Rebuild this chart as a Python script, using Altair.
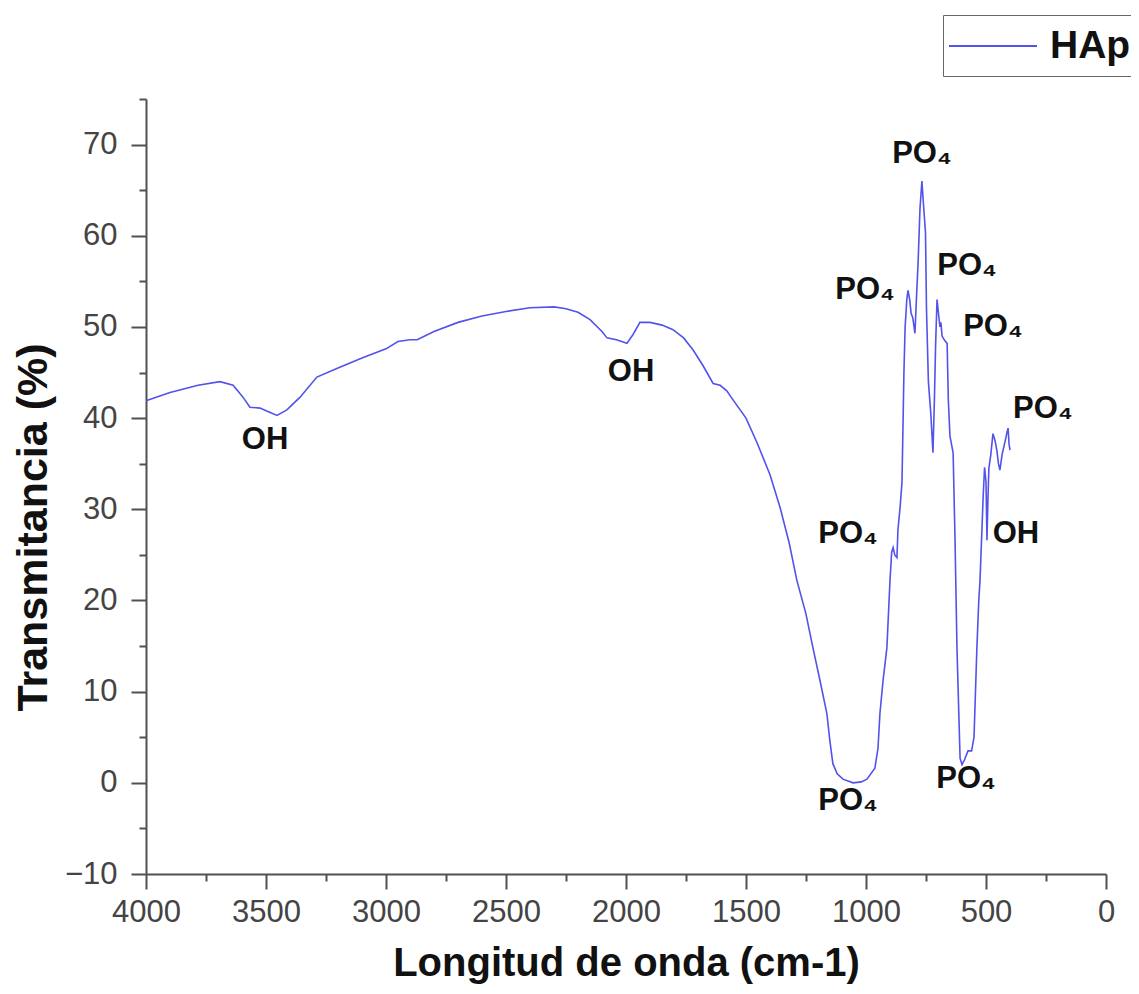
import altair as alt
import pandas as pd

# Spectrum (wavenumber in cm-1, transmittance in %)
wavenumber = [
    4000, 3900, 3783, 3692, 3637, 3596, 3567, 3525, 3490, 3454, 3413, 3358, 3288,
    3200, 3100, 3000, 2950, 2900, 2870, 2800, 2700, 2600, 2500, 2400, 2300, 2250,
    2200, 2150, 2100, 2079, 2040, 1996, 1970, 1942, 1900, 1850, 1804, 1760, 1721,
    1680, 1637, 1608, 1580, 1554, 1500, 1454, 1400, 1358, 1320, 1288, 1250, 1221,
    1190, 1163, 1150, 1138, 1120, 1096, 1054, 1020, 996, 963, 950, 942, 929, 913,
    900, 893, 887, 880, 871, 867, 858, 850, 842, 837, 830, 825, 818, 812, 805, 796,
    790, 783, 775, 767, 762, 752, 748, 740, 730, 721, 715, 710, 704, 698, 692, 688,
    683, 672, 662, 657, 650, 637, 629, 621, 608, 600, 590, 575, 560, 550, 545, 538,
    530, 525, 517, 512, 506, 500, 496, 492, 488, 480, 471, 462, 455, 448, 442, 433,
    420, 412, 408, 404, 400,
]
transmittance = [
    41.9, 42.8, 43.6, 44.0, 43.6, 42.3, 41.2, 41.1, 40.7, 40.3, 40.9, 42.3, 44.5,
    45.5, 46.6, 47.6, 48.4, 48.6, 48.6, 49.5, 50.5, 51.2, 51.7, 52.1, 52.2, 52.0,
    51.6, 50.8, 49.5, 48.8, 48.6, 48.2, 49.2, 50.5, 50.5, 50.2, 49.7, 48.8, 47.5,
    45.8, 43.8, 43.6, 43.0, 42.0, 40.0, 37.3, 33.8, 30.2, 26.3, 22.2, 18.5, 14.8,
    11.0, 7.6, 4.5, 2.1, 1.0, 0.4, 0.0, 0.1, 0.4, 1.6, 3.8, 7.6, 11.2, 14.8,
    22.2, 25.3, 25.8, 25.0, 24.7, 27.7, 30.2, 33.0, 45.0, 50.0, 53.0, 54.0, 53.0, 51.5, 51.0, 49.3,
    53.0, 57.0, 63.0, 66.0, 64.0, 60.3, 52.0, 44.0, 40.5, 36.2, 42.0, 48.0, 53.0, 51.5, 50.0, 50.5,
    49.0, 48.5, 48.2, 42.0, 38.0, 36.2, 26.6, 14.8, 2.7, 2.0, 2.5, 3.5, 3.5, 5.0, 9.0, 14.8,
    20.0, 22.2, 27.7, 31.3, 34.6, 33.0, 26.6, 31.0, 34.5, 36.0, 38.3, 37.5, 36.5, 35.0, 34.3, 36.0,
    37.5, 38.5, 38.9, 37.2, 36.5,
]
series_name = ["HAp"]

# Band annotations
label_text = ["OH", "OH", "PO₄", "PO₄", "PO₄", "PO₄", "PO₄", "PO₄", "OH", "PO₄", "PO₄"]
label_x = [3504, 1979, 767, 1004, 579, 471, 263, 1075, 375, 1075, 583]
label_y = [37.6, 45.1, 69.0, 54.1, 56.7, 50.0, 41.0, 27.3, 27.3, -2.0, 0.4]

x_ticks = list(range(0, 4001, 250))
y_ticks = list(range(-10, 76, 5))

FONT = "Liberation Sans"
LINE_COLOR = "#5252ec"
AXIS_COLOR = "#505050"

spectrum = pd.DataFrame({"wn": wavenumber, "t": transmittance,
                         "serie": series_name * len(wavenumber)})
labels = pd.DataFrame({"wn": label_x, "t": label_y, "label": label_text})

xscale = alt.Scale(domain=[0, 4000], reverse=True, nice=False, zero=False)
yscale = alt.Scale(domain=[-10, 75], nice=False, zero=False)

x_axis = alt.Axis(
    values=x_ticks, format="d",
    labelExpr="datum.value % 500 === 0 ? datum.label : ''",
    tickSize={"condition": {"test": "datum.value % 500 !== 0", "value": 7}, "value": 15},
    tickWidth=2, tickColor=AXIS_COLOR, domainColor=AXIS_COLOR, domainWidth=2,
    labelFont=FONT, labelFontSize=31, labelColor="#444444", labelPadding=8,
    labelFlush=False, labelOverlap=False, labelBound=False, grid=False,
    titleFont=FONT, titleFontSize=40, titleFontWeight="bold", titleColor="#111111",
    titleX=480, titleY=101, titleAlign="center", titleBaseline="alphabetic",
)
y_axis = alt.Axis(
    values=y_ticks, format="d",
    labelExpr="datum.value % 10 === 0 ? datum.label : ''",
    tickSize={"condition": {"test": "datum.value % 10 !== 0", "value": 7}, "value": 15},
    tickWidth=2, tickColor=AXIS_COLOR, domainColor=AXIS_COLOR, domainWidth=2,
    labelFont=FONT, labelFontSize=31, labelColor="#444444", labelPadding=14,
    labelFlush=False, labelOverlap=False, labelBound=False, grid=False,
    titleFont=FONT, titleFontSize=43, titleFontWeight="bold", titleColor="#111111",
    titleX=-113, titleY=428, titleAlign="center", titleBaseline="middle", titleAngle=-90,
)

line = alt.Chart(spectrum).mark_line(strokeWidth=1.6).encode(
    x=alt.X("wn:Q", scale=xscale, axis=x_axis, title="Longitud de onda (cm-1)"),
    y=alt.Y("t:Q", scale=yscale, axis=y_axis, title="Transmitancia (%)"),
    color=alt.Color(
        "serie:N",
        scale=alt.Scale(domain=series_name, range=[LINE_COLOR]),
        legend=alt.Legend(
            title=None, orient="none", legendX=797, legendY=-84,
            symbolType="M-1.25,0H3.15", symbolSize=1600, symbolStrokeWidth=2,
            labelFont=FONT, labelFontSize=39, labelFontWeight="bold",
            labelColor="#111111", labelOffset=55, padding=10,
            strokeColor="#666666", fillColor="white",
        ),
    ),
)

text = alt.Chart(labels).mark_text(
    font=FONT, fontSize=31, fontWeight="bold", color="#111111",
    align="center", baseline="middle",
).encode(
    x=alt.X("wn:Q", scale=xscale, axis=x_axis, title="Longitud de onda (cm-1)"),
    y=alt.Y("t:Q", scale=yscale, axis=y_axis, title="Transmitancia (%)"),
    text="label:N",
)

chart = alt.layer(line, text).properties(
    width=960, height=775,
    padding={"left": 138, "top": 91, "right": 25, "bottom": 110},
    autosize=alt.AutoSizeParams(type="none"),
).configure_view(stroke=None)

chart.save("out.html", embed_options={"renderer": "svg", "actions": False})
